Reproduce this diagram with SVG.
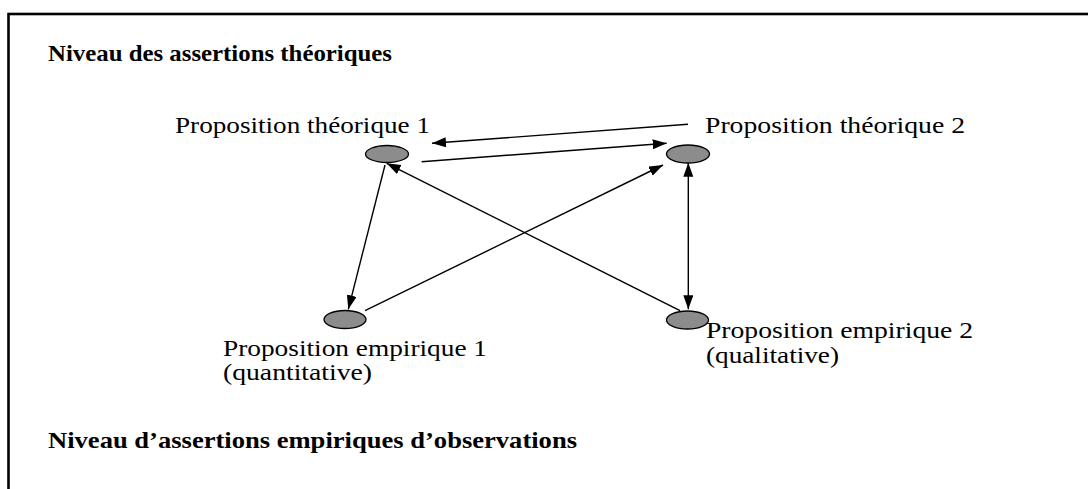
<svg xmlns="http://www.w3.org/2000/svg" width="1088" height="489" viewBox="0 0 1088 489">
  <style>
    .frame { fill: none; stroke: #000; stroke-width: 2.6; }
    .level { font-family: "Liberation Serif", "Times New Roman", serif; font-weight: bold; font-size: 24px; fill: #000; }
    .label { font-family: "Liberation Serif", "Times New Roman", serif; font-size: 24px; fill: #000; }
    .dot { fill: #8c8c8c; stroke: #000; stroke-width: 1.3; }
    .link { fill: none; stroke: #000; stroke-width: 1.4; }
  </style>
  <defs>
    <marker id="head" markerUnits="userSpaceOnUse" markerWidth="15" markerHeight="11" refX="14" refY="5" orient="auto-start-reverse">
      <path d="M0,0 L14,5 L0,10 z" fill="#000"/>
    </marker>
  </defs>

  <rect width="1088" height="489" fill="#fff"/>
  <!-- outer frame, running off the right and bottom edges -->
  <rect class="frame" x="8.5" y="14" width="1090" height="490"/>

  <!-- level headings -->
  <text class="level" x="48" y="61" textLength="344" lengthAdjust="spacingAndGlyphs">Niveau des assertions théoriques</text>
  <text class="level" x="48" y="448" textLength="529" lengthAdjust="spacingAndGlyphs">Niveau d’assertions empiriques d’observations</text>

  <!-- connectors -->
  <g id="connectors">
    <line class="link" x1="688" y1="124.3" x2="432" y2="143.3" marker-end="url(#head)"/>
    <line class="link" x1="421.7" y1="161.7" x2="666.7" y2="143.3" marker-end="url(#head)"/>
    <line class="link" x1="365" y1="310.7" x2="663" y2="165" marker-end="url(#head)"/>
    <line class="link" x1="680" y1="310.7" x2="386.7" y2="163.3" marker-end="url(#head)"/>
    <line class="link" x1="385" y1="165" x2="348.3" y2="309.3" marker-end="url(#head)"/>
    <line class="link" x1="688.3" y1="162.7" x2="688.3" y2="309.3" marker-start="url(#head)" marker-end="url(#head)"/>
  </g>

  <!-- nodes -->
  <g id="theorique1">
    <ellipse class="dot" cx="387" cy="154" rx="21.5" ry="8.5"/>
    <text class="label" x="175" y="133" textLength="255" lengthAdjust="spacingAndGlyphs">Proposition théorique 1</text>
  </g>
  <g id="theorique2">
    <ellipse class="dot" cx="688" cy="154" rx="21.5" ry="9"/>
    <text class="label" x="705" y="133.3" textLength="260" lengthAdjust="spacingAndGlyphs">Proposition théorique 2</text>
  </g>
  <g id="empirique1">
    <ellipse class="dot" cx="345" cy="319.5" rx="21" ry="9"/>
    <text class="label" x="223" y="356" textLength="264" lengthAdjust="spacingAndGlyphs">Proposition empirique 1</text>
    <text class="label" x="223" y="379.5" textLength="149" lengthAdjust="spacingAndGlyphs">(quantitative)</text>
  </g>
  <g id="empirique2">
    <ellipse class="dot" cx="687.5" cy="320" rx="21" ry="9"/>
    <text class="label" x="706" y="338.3" textLength="267" lengthAdjust="spacingAndGlyphs">Proposition empirique 2</text>
    <text class="label" x="706" y="362.7" textLength="133" lengthAdjust="spacingAndGlyphs">(qualitative)</text>
  </g>
</svg>
